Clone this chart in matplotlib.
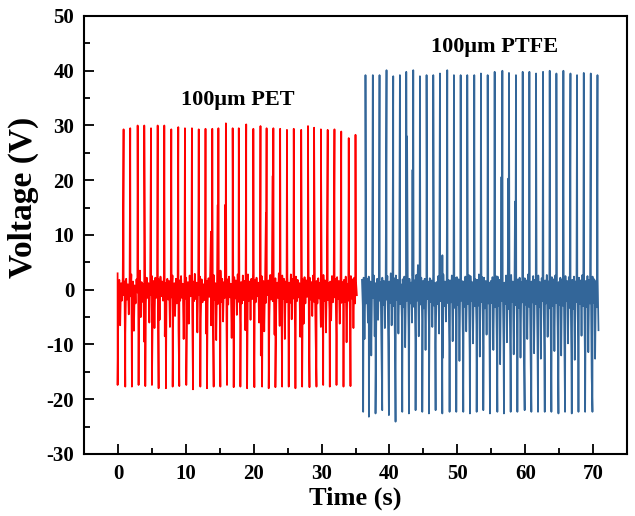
import numpy as np
import matplotlib
matplotlib.use("Agg")
import matplotlib.pyplot as plt
from matplotlib.ticker import MultipleLocator

plt.rcParams["font.family"] = ["Liberation Serif", "DejaVu Serif"]
plt.rcParams["font.weight"] = "bold"
plt.rcParams["axes.unicode_minus"] = False

# ---- PET (red) ----
pet_peak_t = [0.83, 1.81, 2.90, 3.88, 4.87, 5.85, 6.83, 7.86, 8.89, 9.87,
              10.9, 11.9, 12.9, 13.9, 14.8, 15.9, 16.9, 17.8, 18.9, 19.95,
              21.0, 21.9, 22.9, 23.9, 24.9, 25.9, 27.0, 28.0, 28.9, 29.9,
              30.9, 31.9, 32.9, 34.0, 35.0]
pet_peak_v = [29.3, 29.5, 30.0, 30.0, 29.5, 30.0, 30.0, 29.3, 29.7, 29.5,
              29.5, 29.3, 29.4, 29.4, 29.5, 30.4, 29.5, 29.5, 30.2, 29.4,
              29.9, 29.5, 29.5, 29.4, 29.2, 29.4, 29.2, 29.9, 29.6, 29.3,
              29.2, 29.3, 28.9, 27.7, 28.3]
pet_trough_t = [-0.05, 1.08, 2.06, 3.04, 4.03, 5.01, 5.99, 7.07, 8.06, 9.04,
                10.07, 11.06, 12.14, 13.12, 14.10, 15.09, 16.07, 17.05, 18.04, 19.03,
                20.10, 21.24, 22.21, 23.20, 24.19, 25.16, 26.15, 27.14, 28.22, 29.25,
                30.24, 31.21, 32.20, 33.23, 34.26]
pet_trough_v = [-17.4, -17.7, -17.7, -17.4, -17.6, -17.4, -18.0, -18.0, -17.7, -17.6,
                -17.4, -18.2, -17.7, -18.0, -17.7, -17.7, -17.4, -17.8, -17.7, -18.0,
                -17.8, -17.7, -18.0, -17.8, -17.7, -17.7, -18.0, -17.7, -17.8, -17.7,
                -17.4, -17.7, -17.4, -17.7, -17.6]
pet_mid_t = [13.7, 14.7, 15.8, 21.8, 22.8]
pet_mid_v = [10.6, 15.5, 15.5, 14.0, 20.8]
pet_noise = [
    3.0, -1.5, 1.8, -6.5, 1.2, -2.0, 2.2, -1.0,
    1.5, -8.0, 2.0, -1.8, 1.0, -4.5, 2.4, -1.2,
    2.8, -2.2, 1.5, -7.5, 0.8, -2.5, 1.9, -0.5,
    2.0, -1.8, 3.5, -5.0, 1.4, -2.2, 1.0, -9.5,
    1.8, -2.4, 2.2, -1.5, 1.2, -6.0, 2.0, -1.0,
    2.5, -3.0, 1.6, -7.0, 2.2, -1.5, 1.0, -2.8,
    1.9, -5.5, 2.4, -1.2, 1.5, -2.0, 2.8, -8.5,
    1.2, -2.2, 2.0, -1.8, 1.6, -6.8, 2.3, -1.4,
    2.6, -1.9, 1.2, -4.8, 2.0, -2.5, 1.4, -7.2,
    1.7, -2.0, 2.5, -1.5, 1.1, -9.0, 2.0, -1.6,
    2.2, -2.6, 1.4, -6.2, 2.6, -1.2, 1.8, -3.5,
    1.5, -2.1, 2.9, -1.7, 1.3, -7.8, 2.1, -1.0,
    2.4, -5.2, 1.9, -2.3, 1.0, -1.9, 2.6, -8.0,
    1.6, -2.4, 2.1, -1.3, 3.2, -6.5, 1.5, -2.0,
    2.7, -1.8, 1.2, -9.2, 2.2, -2.6, 1.8, -1.1,
    3.5, -2.2, 2.0, -5.8, 1.4, -1.5, 2.5, -7.0,
    1.9, -2.7, 2.4, -1.4, 1.1, -8.8, 2.0, -2.1,
    2.3, -1.6, 1.7, -4.6, 2.8, -2.2, 1.2, -6.4,
    1.4, -2.5, 2.6, -1.9, 1.6, -7.4, 2.2, -1.3,
    2.8, -2.0, 1.5, -5.5, 2.0, -1.7, 3.0, -9.8,
    1.8, -2.3, 2.2, -1.2, 1.3, -6.0, 2.4, -12.0,
    2.5, -1.9, 1.6, -7.6, 2.1, -2.4, 1.4, -1.0,
    1.7, -5.0, 2.7, -1.8, 1.2, -2.1, 2.3, -8.2,
    2.1, -2.6, 1.3, -1.5, 3.0, -6.6, 1.9, -2.0,
    2.6, -1.7, 2.0, -9.0, 1.5, -2.3, 2.2, -1.2,
    1.3, -2.4, 2.8, -5.4, 2.0, -1.6, 1.6, -7.2,
    2.4, -2.1, 1.8, -1.4, 1.2, -8.6, 2.5, -1.9,
    1.9, -6.2, 2.3, -2.5, 1.7, -1.3, 3.1, -7.0,
    2.2, -1.8, 1.4, -4.8, 2.6, -2.2, 1.5, -9.4,
    1.6, -2.5, 2.1, -1.6, 1.3, -6.8, 2.4, -1.1,
    2.7, -2.0, 1.7, -7.8, 2.2, -1.9, 1.2, -3.6,
    1.5, -5.6, 2.5, -2.3, 1.9, -1.4, 2.0, -8.4,
    2.3, -1.7, 1.6, -6.2, 2.8, -2.4, 1.4, -1.5,
    1.8, -2.2, 2.4, -9.6, 1.1, -2.0, 2.6, -5.0,
    2.5, -1.6, 1.9, -7.0, 2.2, -2.5, 1.5, -1.0,
]
pet_span = (-0.05, 35.2)

# ---- PTFE (blue) ----
ptfe_peak_t = [36.47, 37.55, 38.54, 39.57, 40.56, 41.54, 42.48, 43.51, 44.49, 45.47,
               46.46, 47.44, 48.52, 49.50, 50.49, 51.47, 52.50, 53.48, 54.47, 55.50,
               56.64, 57.61, 58.64, 59.63, 60.62, 61.60, 62.63, 63.61, 64.60, 65.63,
               66.67, 67.64, 68.63, 69.66, 70.65]
ptfe_peak_v = [39.2, 39.2, 39.2, 40.1, 39.0, 39.2, 39.8, 40.1, 39.0, 39.2,
               39.2, 39.5, 40.1, 39.2, 39.2, 39.2, 39.2, 39.5, 39.2, 39.8,
               40.0, 39.6, 39.2, 39.8, 39.8, 39.5, 39.8, 40.0, 39.5, 40.0,
               39.5, 39.2, 39.6, 39.5, 39.2]
ptfe_trough_t = [36.13, 36.97, 37.95, 38.94, 39.92, 40.90, 41.89, 42.87, 43.85, 44.84,
                 45.82, 46.80, 47.79, 48.86, 49.85, 50.88, 51.86, 52.85, 53.83, 54.81,
                 55.90, 56.87, 57.86, 58.85, 59.92, 60.91, 61.89, 62.88, 63.86, 64.90,
                 65.87, 66.86, 67.85, 68.83, 69.91]
ptfe_trough_v = [-22.3, -23.2, -22.6, -22.0, -22.9, -24.1, -22.3, -22.6, -22.0, -22.3,
                 -22.6, -22.0, -22.6, -22.3, -22.3, -22.3, -22.6, -22.3, -22.0, -22.6,
                 -22.3, -22.6, -22.3, -22.3, -22.0, -22.3, -22.3, -22.3, -22.3, -22.6,
                 -22.3, -22.6, -22.3, -22.3, -22.3]
ptfe_mid_t = [42.6, 43.4, 47.8, 56.5, 57.5, 58.5]
ptfe_mid_v = [28.0, 21.9, 6.3, 20.6, 20.3, 16.1]
ptfe_noise = [
    1.8, -3.0, 2.2, -9.0, 1.0, -2.5, 2.0, -6.0,
    2.4, -2.2, 1.5, -12.0, 1.8, -1.5, 2.6, -8.5,
    1.2, -3.5, 2.0, -5.5, 2.8, -2.0, 1.4, -10.0,
    2.2, -2.8, 1.6, -7.0, 2.0, -1.8, 2.5, -9.5,
    1.5, -2.4, 3.0, -6.5, 1.2, -3.0, 2.1, -11.5,
    2.6, -1.9, 1.8, -8.0, 2.2, -2.6, 1.0, -5.0,
    1.9, -3.2, 2.4, -10.5, 1.6, -2.0, 2.8, -7.5,
    2.0, -2.5, 1.3, -6.0, 2.5, -3.1, 1.7, -9.0,
    2.7, -2.0, 4.5, -8.5, 1.4, -2.7, 2.2, -5.5,
    1.6, -3.4, 2.0, -11.0, 2.3, -1.7, 1.5, -7.0,
    2.1, -2.2, 1.7, -6.8, 2.9, -2.9, 1.2, -9.8,
    1.4, -2.6, 2.5, -8.0, 1.9, -2.1, 2.4, -12.5,
    2.8, -3.0, 1.5, -5.8, 2.0, -2.4, 1.8, -10.2,
    1.7, -2.3, 2.6, -9.4, 1.3, -3.3, 2.2, -7.2,
    2.3, -2.8, 1.9, -13.0, 2.5, -2.0, 1.6, -8.4,
    1.5, -3.1, 2.4, -7.6, 1.8, -2.6, 2.7, -11.4,
    2.5, -2.1, 1.4, -9.8, 2.1, -3.0, 1.9, -6.4,
    1.8, -2.9, 2.8, -12.2, 1.6, -2.2, 2.3, -10.6,
    2.2, -3.4, 1.6, -8.2, 2.6, -2.5, 1.3, -13.4,
    1.6, -2.4, 2.3, -11.0, 1.9, -3.2, 2.5, -9.2,
    2.4, -3.0, 1.8, -13.6, 2.2, -2.0, 1.5, -10.0,
    1.3, -2.6, 2.6, -9.6, 1.7, -3.5, 2.1, -12.8,
    2.7, -2.2, 1.5, -11.8, 2.4, -2.8, 1.8, -8.8,
    1.9, -3.3, 2.2, -12.4, 1.4, -2.3, 2.6, -10.8,
    2.1, -2.7, 1.7, -9.0, 2.8, -3.1, 1.2, -13.2,
    1.5, -2.3, 2.5, -11.6, 1.8, -2.6, 2.3, -9.4,
    2.6, -3.2, 1.4, -12.6, 2.1, -2.1, 1.7, -10.4,
    1.7, -2.5, 2.7, -8.6, 1.5, -3.4, 2.4, -13.0,
    2.3, -3.0, 1.9, -11.2, 2.6, -2.4, 1.3, -9.2,
    1.4, -2.8, 2.2, -12.0, 1.9, -2.9, 2.5, -14.0,
    2.5, -2.1, 1.6, -9.8, 2.3, -3.3, 1.8, -11.6,
    1.8, -3.5, 2.4, -12.8, 1.5, -2.2, 2.1, -10.2,
    2.2, -2.6, 1.7, -8.4, 2.7, -3.0, 1.4, -12.4,
    1.6, -3.1, 2.5, -11.4, 1.8, -2.5, 2.3, -16.0,
    2.4, -2.4, 1.9, -12.6, 1.6, -3.2, 2.0, -7.4,
]
ptfe_span = (35.95, 70.8)


def build_trace(span, noise, peak_t, peak_v, trough_t, trough_v, mid_t, mid_v):
    # noise samples sit on an even time grid; spikes are merged in by time
    tn = np.linspace(span[0], span[1], len(noise))
    t = np.concatenate([tn, peak_t, trough_t, mid_t])
    v = np.concatenate([noise, peak_v, trough_v, mid_v])
    order = np.argsort(t, kind="stable")
    return t[order], v[order]


fig = plt.figure(figsize=(6.35, 5.16), dpi=100)
ax = fig.add_axes([0.1323, 0.1202, 0.8551, 0.8488])

t1, v1 = build_trace(pet_span, pet_noise, pet_peak_t, pet_peak_v,
                     pet_trough_t, pet_trough_v, pet_mid_t, pet_mid_v)
t2, v2 = build_trace(ptfe_span, ptfe_noise, ptfe_peak_t, ptfe_peak_v,
                     ptfe_trough_t, ptfe_trough_v, ptfe_mid_t, ptfe_mid_v)
ax.plot(t1, v1, color="#ff0000", lw=1.25)
ax.plot(t2, v2, color="#336699", lw=1.25)

ax.set_xlim(-5, 75)
ax.set_ylim(-30, 50)
ax.xaxis.set_major_locator(MultipleLocator(10))
ax.xaxis.set_minor_locator(MultipleLocator(5))
ax.yaxis.set_major_locator(MultipleLocator(10))
ax.yaxis.set_minor_locator(MultipleLocator(5))
ax.tick_params(which="both", direction="in", top=False, right=False,
               width=1.3, labelsize=15)
ax.tick_params(which="major", length=7, pad=7)
ax.tick_params(which="minor", length=4)
for lab in ax.get_xticklabels() + ax.get_yticklabels():
    lab.set_fontweight("bold")
for s in ax.spines.values():
    s.set_linewidth(1.5)

ax.set_xlabel("Time (s)", fontsize=19, fontweight="bold", labelpad=2)
ax.set_ylabel("Voltage (V)", fontsize=24, fontweight="bold")
ax.yaxis.set_label_coords(-0.082, 0.585)

ax.text(17.7, 34.7, "100μm PET", fontsize=16, fontweight="bold",
        ha="center", va="center")
ax.text(55.5, 44.3, "100μm PTFE", fontsize=16, fontweight="bold",
        ha="center", va="center")

fig.savefig("out.png", dpi=100)
